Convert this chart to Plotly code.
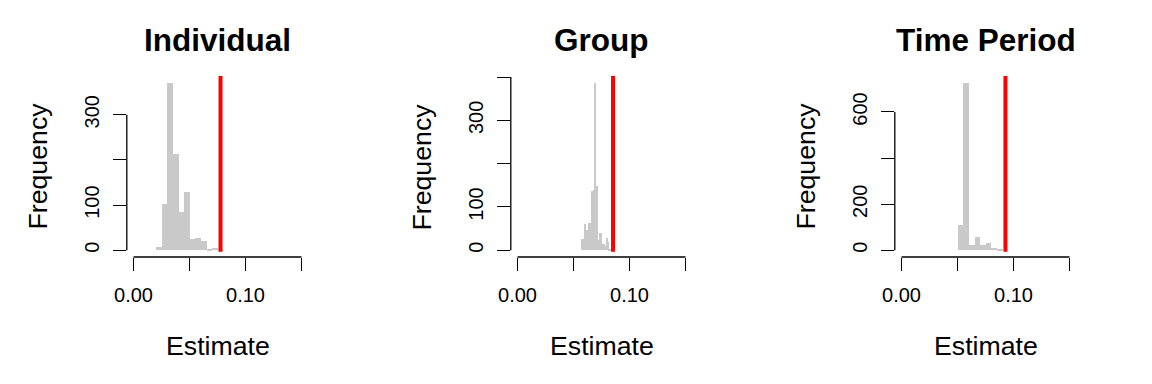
import plotly.graph_objects as go

# ---- data ----
titles = ["Individual", "Group", "Time Period"]

ind_start, ind_width = 0.020, 0.005
ind_counts = [8, 102, 371, 213, 85, 129, 25, 28, 21, 3, 5, 2]

grp_start, grp_width = 0.057, 0.001
grp_counts = [26, 26, 26, 60, 48, 43, 64, 64, 64, 138, 138, 140, 387, 148,
              24, 24, 41, 41, 15, 15, 15, 10, 28, 20, 4, 4]

tp_start, tp_width = 0.050, 0.005
tp_counts = [110, 727, 25, 59, 23, 32, 9, 4]

observed = [0.0777, 0.0853, 0.0928]

x_ticks = [0.0, 0.05, 0.10, 0.15]
x_ticktext = ["0.00", "", "0.10", ""]

ind_yticks = [0, 100, 200, 300]
ind_yticktext = ["0", "100", "", "300"]
grp_yticks = [0, 100, 200, 300, 400]
grp_yticktext = ["0", "100", "", "300", ""]
tp_yticks = [0, 200, 400, 600]
tp_yticktext = ["0", "200", "", "600"]

# ---- figure ----
# the page body adds an 8px margin, so the figure is placed at (8, 8)
OFF = 8
W, H = 1152 - OFF, 384 - OFF
FONT = "Liberation Sans, Arial, Helvetica, sans-serif"
BAR = "#C9C9C9"


def px(xp):
    return (xp - OFF) / W


def py(yp):
    return 1 - (yp - OFF) / H


panels = [
    (ind_start, ind_width, ind_counts, ind_yticks, ind_yticktext),
    (grp_start, grp_width, grp_counts, grp_yticks, grp_yticktext),
    (tp_start, tp_width, tp_counts, tp_yticks, tp_yticktext),
]

fig = go.Figure()
layout = dict(
    width=W, height=H,
    margin=dict(l=0, r=0, t=0, b=0, autoexpand=False),
    paper_bgcolor="white", plot_bgcolor="white",
    showlegend=False, bargap=0,
    font=dict(family=FONT, color="black"),
)
shapes, annotations = [], []

xpad = 0.04 * (x_ticks[-1] - x_ticks[0])
ydom = [py(257), py(76)]

for i, (start, width, counts, yticks, yticktext) in enumerate(panels):
    n = i + 1
    xa = "x" if n == 1 else f"x{n}"
    ya = "y" if n == 1 else f"y{n}"
    centers = [start + width * (k + 0.5) for k in range(len(counts))]
    fig.add_trace(go.Bar(
        x=centers, y=counts, width=width,
        marker=dict(color=BAR, line=dict(width=0)),
        xaxis=xa, yaxis=ya, hoverinfo="skip",
    ))
    m = max(counts)
    off = 384 * i
    xdom = [px(126.8 + off), px(308.2 + off)]
    layout[f"xaxis{'' if n == 1 else n}"] = dict(
        domain=xdom, anchor=ya, automargin=False,
        range=[x_ticks[0] - xpad, x_ticks[-1] + xpad],
        showgrid=False, zeroline=False, showline=False,
        tickmode="array", tickvals=x_ticks, ticktext=x_ticktext,
        ticks="outside", ticklen=13, tickwidth=1.3, tickcolor="black",
        tickfont=dict(size=20, family=FONT, color="black"),
        ticklabelstandoff=7,
    )
    layout[f"yaxis{'' if n == 1 else n}"] = dict(
        domain=ydom, anchor=xa, automargin=False,
        range=[-0.04 * m, 1.04 * m],
        showgrid=False, zeroline=False, showline=False,
        tickmode="array", tickvals=yticks, ticktext=yticktext,
        ticks="outside", ticklen=13, tickwidth=1.3, tickcolor="black",
        tickangle=-90,
        tickfont=dict(size=20, family=FONT, color="black"),
        ticklabelstandoff=6,
    )
    # R-style axis lines spanning first to last tick
    shapes.append(dict(type="line", xref=xa, yref=f"{ya} domain",
                       x0=x_ticks[0], x1=x_ticks[-1], y0=0, y1=0,
                       line=dict(color="black", width=1.3)))
    shapes.append(dict(type="line", xref=f"{xa} domain", yref=ya,
                       x0=0, x1=0, y0=yticks[0], y1=yticks[-1],
                       line=dict(color="black", width=1.3)))
    # observed value line
    shapes.append(dict(type="line", xref=xa, yref=ya,
                       x0=observed[i], x1=observed[i], y0=-0.008 * m, y1=1.04 * m,
                       line=dict(color="#FF0000", width=4)))
    cx = (xdom[0] + xdom[1]) / 2
    annotations.append(dict(text=f"<b>{titles[i]}</b>", x=cx, y=py(40),
                            xref="paper", yref="paper", showarrow=False,
                            xanchor="center", yanchor="middle",
                            font=dict(size=31.5, family=FONT, color="black")))
    annotations.append(dict(text="Estimate", x=cx, y=py(346),
                            xref="paper", yref="paper", showarrow=False,
                            xanchor="center", yanchor="middle",
                            font=dict(size=26.7, family=FONT, color="black")))
    annotations.append(dict(text="Frequency", x=px(37 + off), y=py(166.5),
                            xref="paper", yref="paper", showarrow=False,
                            xanchor="center", yanchor="middle", textangle=-90,
                            font=dict(size=26.7, family=FONT, color="black")))

layout["shapes"] = shapes
layout["annotations"] = annotations
fig.update_layout(**layout)
fig.write_html("out.html")
